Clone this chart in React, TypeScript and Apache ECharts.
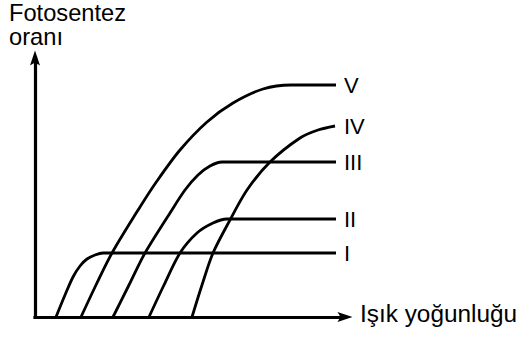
import React, { useEffect, useRef } from "react";
import * as echarts from "echarts";

// Values are measured in chart units (x: light intensity, y: photosynthesis rate)
const seriesNames = ["I", "II", "III", "IV", "V"];

const curveI: number[][] = [
  [21, 0], [30, 22], [38, 40], [45, 51], [52, 58], [60, 62], [68, 64], [301, 64],
];
const curveII: number[][] = [
  [114, 0], [129, 32], [145, 64], [162, 84], [178, 94], [192, 98], [301, 98],
];
const curveIII: number[][] = [
  [78, 0], [94, 32], [110, 64], [135, 104], [150, 127], [163, 142], [175, 151], [187, 155], [301, 155],
];
const curveIV: number[][] = [
  [157, 0], [167, 32], [178, 64], [195, 97], [212, 127], [235, 155], [265, 179], [283, 187], [300, 191],
];
const curveV: number[][] = [
  [46, 0], [61, 32], [77, 64], [105, 110], [122, 136], [145, 167], [172, 195], [198, 214], [228, 228], [256, 232], [301, 232],
];
const curves = [curveI, curveII, curveIII, curveIV, curveV];
const labelDistances = [8, 8, 8, 9, 8];

const yTitleLines = ["Fotosentez", "oranı"];
const xTitle = "Işık yoğunluğu";

const FONT = "'Liberation Sans', Arial, Helvetica, sans-serif";
const ARROW = "path://M5,0 L10,15 L5,12 L0,15 Z";

export default function App() {
  const ref = useRef<HTMLDivElement>(null);

  useEffect(() => {
    if (!ref.current) return;
    const chart = echarts.init(ref.current, undefined, { renderer: "svg" });
    const axisLine = {
      show: true,
      symbol: ["none", ARROW],
      symbolSize: [10, 15],
      lineStyle: { color: "#000", width: 3.2, cap: "square" },
    };
    chart.setOption({
      animation: false,
      backgroundColor: "#fff",
      grid: { left: 35, top: 58, width: 310, height: 259 },
      xAxis: {
        type: "value",
        min: 0,
        max: 310,
        axisLine,
        axisTick: { show: false },
        axisLabel: { show: false },
        splitLine: { show: false },
      },
      yAxis: {
        type: "value",
        min: 0,
        max: 259,
        axisLine,
        axisTick: { show: false },
        axisLabel: { show: false },
        splitLine: { show: false },
      },
      graphic: [
        {
          type: "text",
          x: 9,
          y: 1,
          scaleX: 1.03,
          style: {
            text: yTitleLines.join("\n"),
            font: `23px ${FONT}`,
            fill: "#000",
            lineHeight: 24,
          },
        },
        {
          type: "text",
          x: 360,
          y: 314,
          scaleX: 1.06,
          style: {
            text: xTitle,
            font: `23px ${FONT}`,
            fill: "#000",
            verticalAlign: "middle",
          },
        },
      ],
      series: curves.map((data, i) => ({
        type: "line",
        name: seriesNames[i],
        data,
        smooth: 0.3,
        showSymbol: false,
        symbol: "none",
        lineStyle: { color: "#000", width: 2.8 },
        endLabel: {
          show: true,
          formatter: seriesNames[i],
          distance: labelDistances[i],
          color: "#000",
          fontSize: 22,
          fontFamily: FONT,
        },
      })),
    });
    return () => chart.dispose();
  }, []);

  return (
    <div
      ref={ref}
      style={{ position: "fixed", left: 0, top: 0, width: 521, height: 338 }}
    />
  );
}
